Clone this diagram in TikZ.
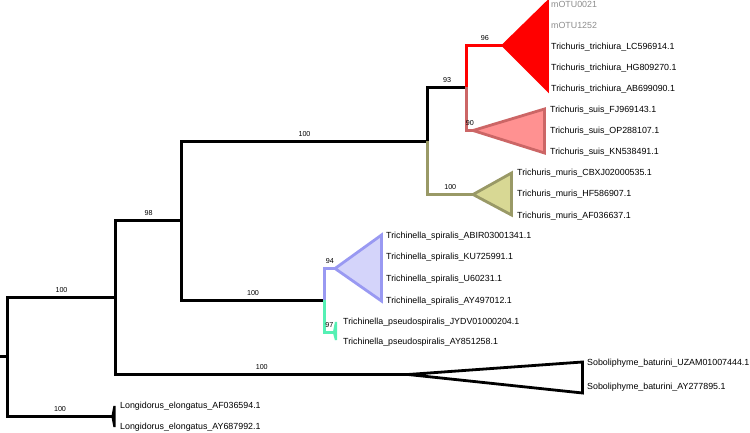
\documentclass[tikz,border=0pt]{standalone}
\usepackage{fontspec}
\setmainfont{Liberation Sans}
\usetikzlibrary{positioning}
\definecolor{treered}{HTML}{FF0000}
\definecolor{suisfill}{HTML}{FF9191}
\definecolor{suisedge}{HTML}{CC6666}
\definecolor{murisfill}{HTML}{D8D894}
\definecolor{murisedge}{HTML}{999966}
\definecolor{spirfill}{HTML}{D4D4FA}
\definecolor{spiredge}{HTML}{9999F2}
\definecolor{pseudoteal}{HTML}{55F0B4}
\definecolor{otugray}{HTML}{8C8C8C}

\begin{document}
\begin{tikzpicture}[x=1bp, y=-1bp,
        branch/.style={line width=3bp, black},
        clade/.style={line width=2.8bp},
        tinyclade/.style={line width=2.2bp, miter limit=1},
        tip/.style={anchor=west, inner sep=0pt, text height=6.5bp, text depth=1.9bp, font=\fontsize{8.9}{10}\selectfont},
        boot/.style={anchor=south, inner sep=0pt, yshift=3.5bp, text=black, font=\fontsize{7.2}{8}\selectfont}
    ]
        \useasboundingbox (0,0) rectangle (750,433);

        % inner nodes of the tree
        \coordinate (base) at (0,356.5);
        \coordinate (root) at (7.5,356.5);
        \coordinate (ingroup) at (115.5,297.5);
        \coordinate (trichocep) at (181.5,220.5);
        \coordinate (trichuris) at (427.5,141.5);
        \coordinate (trisuis) at (466.5,87.5);
        \coordinate (trichinella) at (324.5,300.5);
        % apices of the collapsed clades
        \coordinate (triApex) at (503,45.5);
        \coordinate (suisApex) at (473,130.5);
        \coordinate (murisApex) at (473,194.5);
        \coordinate (spirApex) at (335,268.5);
        \coordinate (pseudoApex) at (334,332.5);
        \coordinate (soboApex) at (408,374.5);
        \coordinate (longApex) at (112.5,416.5);

        \draw [branch] (base) -- (root);
        \draw [branch] (root) |- node[boot, pos=0.75] (bsIngroup) {100} (ingroup);
        \draw [branch] (root) |- node[boot, pos=0.75] (bsLong) {100} (longApex);
        \draw [branch] (ingroup) |- node[boot, pos=0.75] (bsTrichocep) {98} (trichocep);
        \draw [branch] (ingroup) |- node[boot, pos=0.75] (bsSobo) {100} (soboApex);
        \draw [branch] (trichocep) |- node[boot, pos=0.75] (bsTrichuris) {100} (trichuris);
        \draw [branch] (trichocep) |- node[boot, pos=0.75] (bsTrichinella) {100} (trichinella);
        \draw [branch] (trichuris) |- node[boot, pos=0.75] (bsTrisuis) {93} (trisuis);
        \draw [branch, murisedge] (trichuris) |- node[boot, pos=0.75] (bsMuris) {100} (murisApex);
        \draw [branch, treered] (trisuis) |- node[boot, pos=0.75] (bsTri) {96} (triApex);
        \draw [branch, suisedge] (trisuis) |- node[boot, pos=0.75] (bsSuis) {90} (suisApex);
        \draw [branch, spiredge] (trichinella) |- node[boot, pos=0.75] (bsSpir) {94} (spirApex);
        \draw [branch, pseudoteal] (trichinella) |- node[boot, pos=0.75] (bsPseudo) {97} (pseudoApex);

        % collapsed clades
        \draw [clade, treered, fill=treered] (triApex) -- (547.5,2) -- (547.5,90) -- cycle;
        \draw [clade, suisedge, fill=suisfill] (suisApex) -- (544.5,109) -- (544.5,153) -- cycle;
        \draw [clade, murisedge, fill=murisfill] (murisApex) -- (511.5,173) -- (511.5,215) -- cycle;
        \draw [clade, spiredge, fill=spirfill] (spirApex) -- (381.5,235) -- (381.5,301) -- cycle;
        \draw [tinyclade, pseudoteal, fill=pseudoteal] (pseudoApex) -- (336,322) -- (336,340) -- cycle;
        \draw [clade, fill=white] (soboApex) -- (582.5,362) -- (582.5,393) -- cycle;
        \draw [tinyclade, fill=black] (longApex) -- (114.5,406) -- (114.5,427) -- cycle;

        % tip labels
        \node (otuA) [tip, otugray] at (551,5) {mOTU0021};
        \node (otuB) [tip, otugray, below=21bp of otuA.west, anchor=west] {mOTU1252};
        \node (triLC) [tip, below=21bp of otuB.west, anchor=west] {Trichuris\_trichiura\_LC596914.1};
        \node (triHG) [tip, below=21bp of triLC.west, anchor=west] {Trichuris\_trichiura\_HG809270.1};
        \node (triAB) [tip, below=21bp of triHG.west, anchor=west] {Trichuris\_trichiura\_AB699090.1};

        \node (suisFJ) [tip] at (550,110) {Trichuris\_suis\_FJ969143.1};
        \node (suisOP) [tip, below=21bp of suisFJ.west, anchor=west] {Trichuris\_suis\_OP288107.1};
        \node (suisKN) [tip, below=21bp of suisOP.west, anchor=west] {Trichuris\_suis\_KN538491.1};

        \node (murCB) [tip] at (517,173) {Trichuris\_muris\_CBXJ02000535.1};
        \node (murHF) [tip, below=21.5bp of murCB.west, anchor=west] {Trichuris\_muris\_HF586907.1};
        \node (murAF) [tip, below=21.5bp of murHF.west, anchor=west] {Trichuris\_muris\_AF036637.1};

        \node (spirAB) [tip] at (386,236) {Trichinella\_spiralis\_ABIR03001341.1};
        \node (spirKU) [tip, below=21.7bp of spirAB.west, anchor=west] {Trichinella\_spiralis\_KU725991.1};
        \node (spirU6) [tip, below=21.7bp of spirKU.west, anchor=west] {Trichinella\_spiralis\_U60231.1};
        \node (spirAY) [tip, below=21.7bp of spirU6.west, anchor=west] {Trichinella\_spiralis\_AY497012.1};

        \node (pseudoJY) [tip] at (343,322) {Trichinella\_pseudospiralis\_JYDV01000204.1};
        \node (pseudoAY) [tip, below=20bp of pseudoJY.west, anchor=west] {Trichinella\_pseudospiralis\_AY851258.1};

        \node (soboUZ) [tip] at (587,363.5) {Soboliphyme\_baturini\_UZAM01007444.1};
        \node (soboAY) [tip, below=24bp of soboUZ.west, anchor=west] {Soboliphyme\_baturini\_AY277895.1};

        \node (longAF) [tip] at (120,406) {Longidorus\_elongatus\_AF036594.1};
        \node (longAY) [tip, below=21bp of longAF.west, anchor=west] {Longidorus\_elongatus\_AY687992.1};
    \end{tikzpicture}
\end{document}
